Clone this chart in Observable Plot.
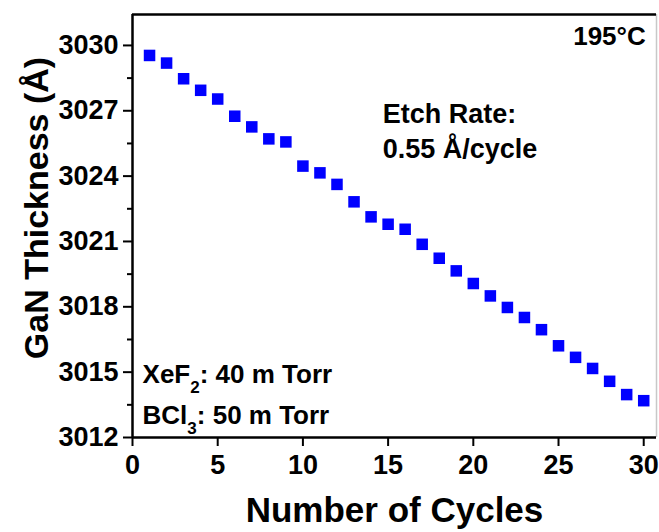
<!DOCTYPE html>
<html>
<head>
<meta charset="utf-8">
<script src="https://cdn.jsdelivr.net/npm/d3@7"></script>
<script src="https://cdn.jsdelivr.net/npm/@observablehq/plot@0.6"></script>
<style>
  html, body { margin: 0; padding: 0; background: #fff; }
  #chart { width: 659px; height: 532px; }
</style>
</head>
<body>
<div id="chart"></div>
<script>
// ---- data ----
const cycles = [1,2,3,4,5,6,7,8,9,10,11,12,13,14,15,16,17,18,19,20,21,22,23,24,25,26,27,28,29,30];
const thickness = [3029.54,3029.19,3028.47,3027.94,3027.54,3026.75,3026.26,3025.71,3025.57,3024.46,
                   3024.15,3023.62,3022.82,3022.13,3021.79,3021.56,3020.87,3020.23,3019.65,3019.07,
                   3018.50,3017.97,3017.51,3016.95,3016.21,3015.68,3015.17,3014.58,3013.97,3013.69];
const xDomain = [0, 30.75];
const yDomain = [3012, 3031.42];
const xTicks = [0,5,10,15,20,25,30];
const yTicks = [3012,3015,3018,3021,3024,3027,3030];
const yMinorTicks = [3013.5,3016.5,3019.5,3022.5,3025.5,3028.5];
const xLabel = ["Number of Cycles"];
const yLabel = ["GaN Thickness (Å)"];
const tempText = ["195°C"];   const tempX = [30.12]; const tempY = [3030];
const rateText = ["Etch Rate:\n0.55 Å/cycle"]; const rateX = [14.68]; const rateY = [3024.82];
const gasText = ["XeF2: 40 m Torr", "BCl3: 50 m Torr"]; const gasX = [0.59, 0.59]; const gasY = [3014.52, 3012.62];

const data = cycles.map((c, i) => ({c, t: thickness[i]}));
const FONT = "'Liberation Sans', Arial, Helvetica, sans-serif";

const plot = Plot.plot({
  width: 659, height: 532,
  marginLeft: 132, marginRight: 3, marginTop: 14, marginBottom: 95,
  style: {fontFamily: FONT, fontWeight: "bold", background: "#fff", color: "#000", overflow: "visible"},
  x: {domain: xDomain},
  y: {domain: yDomain},
  marks: [
    Plot.ruleX([xDomain[1]], {stroke: "#c8c8c8", strokeWidth: 1.5}),
    Plot.ruleY([yDomain[1]], {stroke: "#000", strokeWidth: 2.5}),
    Plot.axisY(yMinorTicks, {tickSize: 5, strokeWidth: 2, tickFormat: () => "", label: null}),
    Plot.axisY(yTicks, {tickSize: 9, tickPadding: 5, strokeWidth: 2, fontSize: 27, label: null, tickFormat: d => String(d)}),
    Plot.axisX(xTicks, {tickSize: 9, tickPadding: 8, strokeWidth: 2, fontSize: 27, label: null, tickFormat: d => String(d)}),
    Plot.ruleX([xDomain[0]], {stroke: "#000", strokeWidth: 2.5}),
    Plot.ruleY([yDomain[0]], {stroke: "#000", strokeWidth: 2.5}),
    Plot.dot(data, {x: "c", y: "t", symbol: "square", r: 6.5, fill: "#0000ff", stroke: null}),
    Plot.text(xLabel, {text: d => d, frameAnchor: "bottom", dy: 84, lineAnchor: "bottom", fontSize: 35, fontWeight: "bold"}),
    Plot.text(yLabel, {text: d => d, frameAnchor: "left", dx: -95, dy: -18, rotate: -90, textAnchor: "middle", lineAnchor: "middle", fontSize: 34, fontWeight: "bold"}),
    Plot.text(tempText, {text: d => d, x: (d, i) => tempX[i], y: (d, i) => tempY[i], textAnchor: "end", lineAnchor: "bottom", fontSize: 26, fontWeight: "bold"}),
    Plot.text(rateText, {text: d => d, x: (d, i) => rateX[i], y: (d, i) => rateY[i], textAnchor: "start", lineAnchor: "bottom", lineHeight: 1.3, fontSize: 27, fontWeight: "bold"}),
    Plot.text(gasText, {text: d => d, x: (d, i) => gasX[i], y: (d, i) => gasY[i], textAnchor: "start", lineAnchor: "bottom", fontSize: 26, fontWeight: "bold"})
  ]
});

document.getElementById("chart").appendChild(plot);

// subscripts for chemical formulas
d3.select(plot).selectAll("text").each(function() {
  const el = d3.select(this);
  const s = el.text();
  const m = s.match(/^(XeF|BCl)(\d)(.*)$/);
  if (!m) return;
  el.text(null);
  el.append("tspan").text(m[1]);
  el.append("tspan").attr("dy", 10).attr("font-size", 17).text(m[2]);
  el.append("tspan").attr("dy", -10).text(m[3]);
});
</script>
</body>
</html>
